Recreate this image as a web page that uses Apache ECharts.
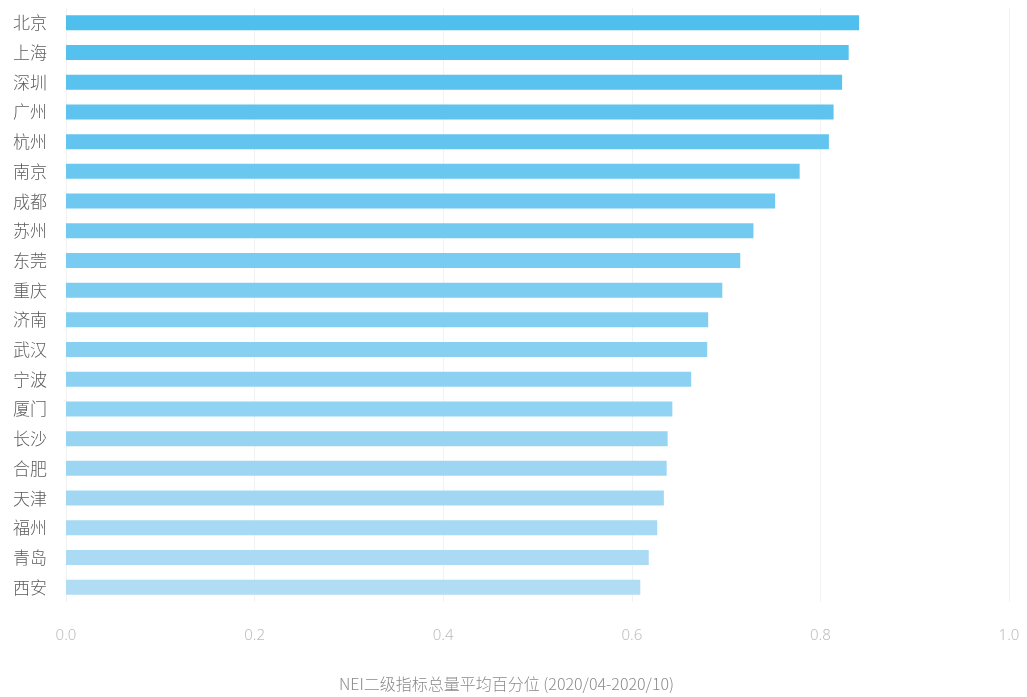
<!DOCTYPE html>
<html>
<head>
<meta charset="utf-8">
<script src="https://cdn.jsdelivr.net/npm/echarts@6/dist/echarts.min.js"></script>
<style>html,body{margin:0;padding:0;background:#fff;}#c{width:1027px;height:697px;}</style>
</head>
<body>
<div id="c"></div>
<script>
var cities = ['北京','上海','深圳','广州','杭州','南京','成都','苏州','东莞','重庆','济南','武汉','宁波','厦门','长沙','合肥','天津','福州','青岛','西安'];
var values = [0.841,0.830,0.823,0.814,0.809,0.778,0.752,0.729,0.715,0.696,0.681,0.680,0.663,0.643,0.638,0.637,0.634,0.627,0.618,0.609];
var axisTitle = 'NEI二级指标总量平均百分位 (2020/04-2020/10)';

function lerpColor(a, b, t) {
  var pa = [parseInt(a.substr(1,2),16),parseInt(a.substr(3,2),16),parseInt(a.substr(5,2),16)];
  var pb = [parseInt(b.substr(1,2),16),parseInt(b.substr(3,2),16),parseInt(b.substr(5,2),16)];
  return 'rgb(' + pa.map(function(v,i){return Math.round(v+(pb[i]-v)*t);}).join(',') + ')';
}
var n = cities.length;
var chart = echarts.init(document.getElementById('c'));
chart.setOption({
  animation: false,
  grid: {left: 66, right: 18, top: 8, bottom: 94, containLabel: false},
  xAxis: {
    type: 'value', min: 0, max: 1, interval: 0.2,
    axisLine: {show: false}, axisTick: {show: false},
    splitLine: {show: true, lineStyle: {color: '#f2f2f2', width: 1}},
    axisLabel: {color: '#bcbcbc', fontSize: 15, margin: 26, fontFamily: 'Noto Sans', fontWeight: 300, formatter: function(v){return v.toFixed(1);}},
    name: axisTitle, nameLocation: 'middle', nameGap: 74,
    nameTextStyle: {color: '#8a8a8a', fontSize: 16, fontFamily: 'Noto Sans CJK SC', fontWeight: 300, padding: [0, 62, 0, 0]}
  },
  yAxis: {
    type: 'category', data: cities, inverse: true,
    axisLine: {show: false}, axisTick: {show: false},
    axisLabel: {color: '#5c5c5c', fontSize: 17, margin: 19, fontFamily: 'Noto Sans CJK SC', fontWeight: 300}
  },
  series: [{
    type: 'bar', data: values, barWidth: 15,
    itemStyle: {color: function(p){ return lerpColor('#4fbfee', '#b0dcf4', p.dataIndex/(n-1)); }}
  }]
});
</script>
</body>
</html>
